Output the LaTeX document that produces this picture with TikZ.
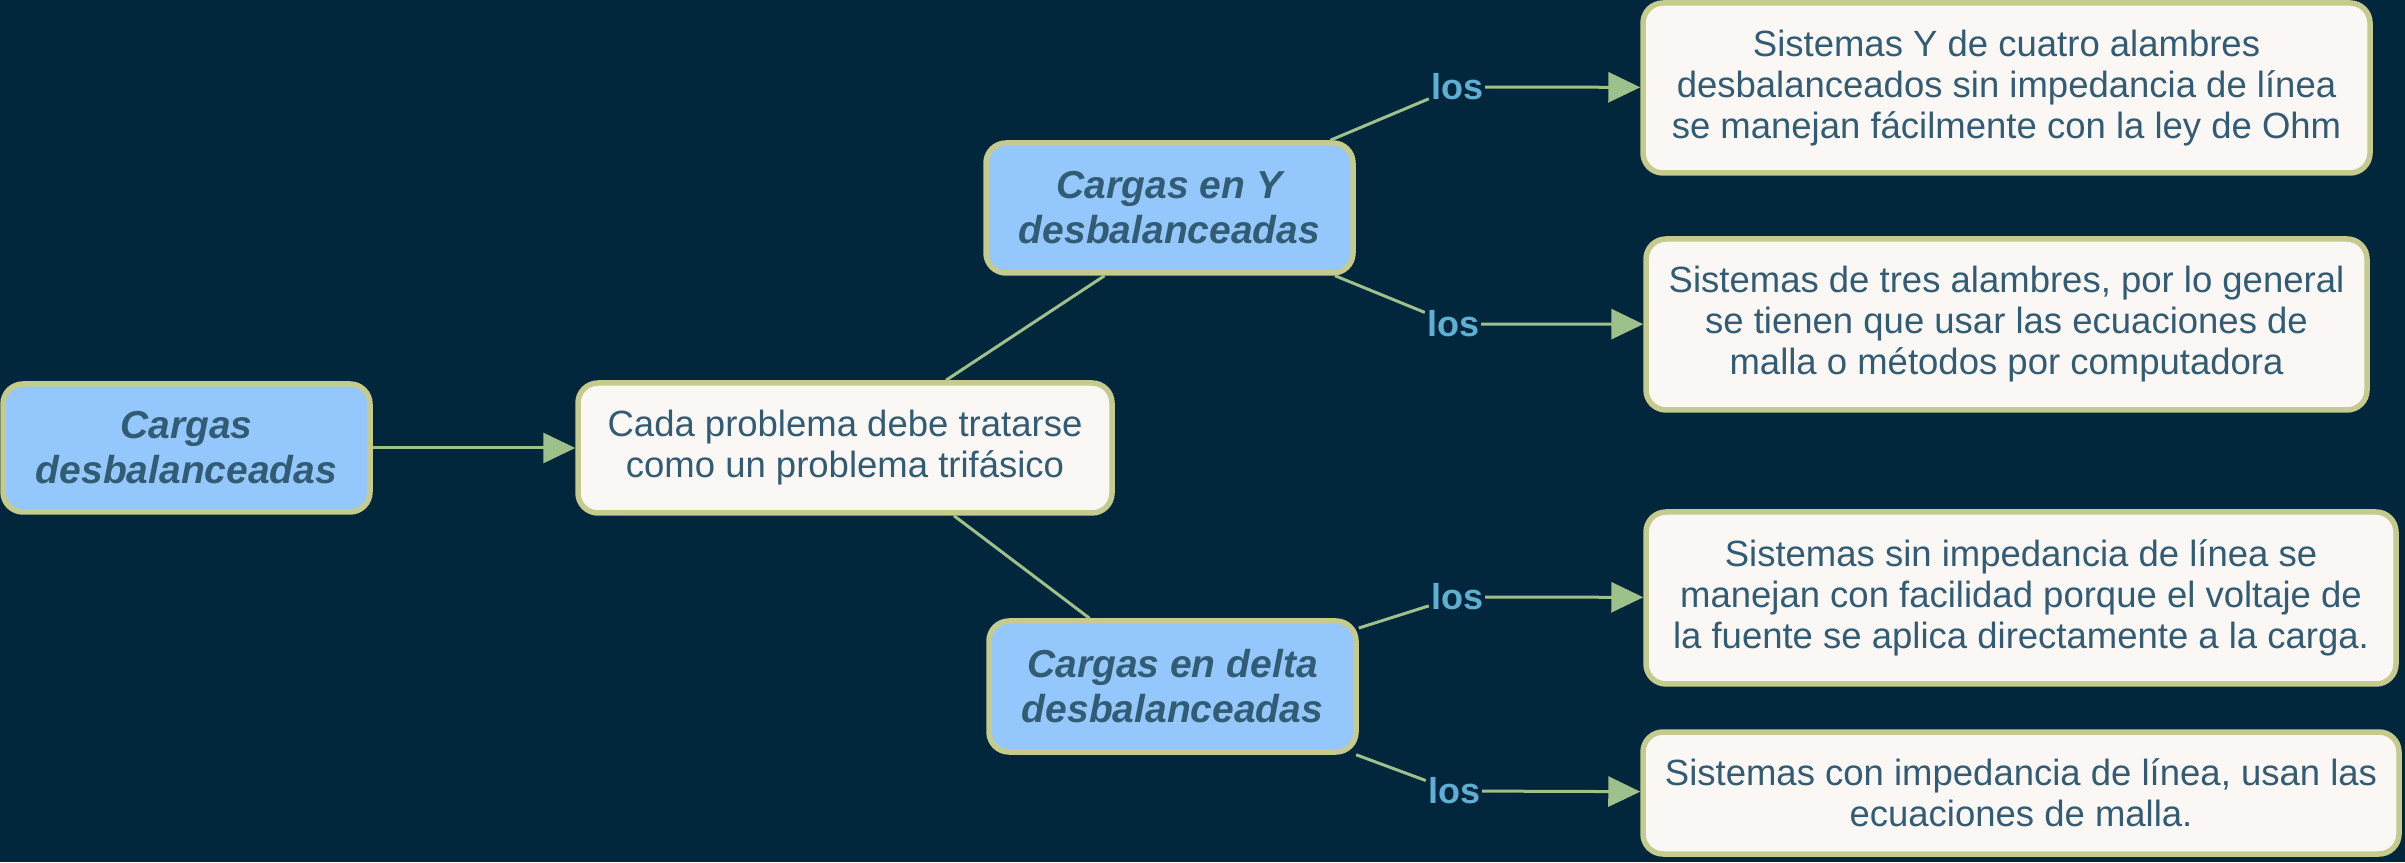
\documentclass[tikz,border=0pt]{standalone}
\usepackage{fontspec}
\setmainfont{Liberation Sans}
\usetikzlibrary{arrows.meta}
\definecolor{bgc}{RGB}{2,38,59}
\definecolor{bluef}{RGB}{148,200,252}
\definecolor{bordc}{RGB}{196,203,140}
\definecolor{creamf}{RGB}{250,247,244}
\definecolor{txtc}{RGB}{50,92,116}
\definecolor{linec}{RGB}{158,192,138}
\definecolor{losc}{RGB}{95,175,210}
\tikzset{
  concept/.style={draw=bordc, line width=5.5pt, rounded corners=20pt, fill=bluef,
    text=txtc, align=center, inner sep=0pt,
    font=\fontsize{39}{45}\selectfont\bfseries\itshape},
  leaf/.style={draw=bordc, line width=5.5pt, rounded corners=20pt, fill=creamf,
    text=txtc, align=center, inner sep=0pt,
    font=\fontsize{36.5}{41}\selectfont},
  loslab/.style={text=losc, inner sep=2pt, font=\fontsize{36}{40}\selectfont\bfseries},
  conn/.style={draw=linec, line width=3pt},
  arr/.style={conn, -{Triangle[length=32pt,width=30pt]}},
}
\begin{document}
\begin{tikzpicture}[x=1pt,y=1pt]
\fill[bgc] (0,0) rectangle (2405,862);
\useasboundingbox (0,0) rectangle (2405,862);

\node[concept, minimum width=367pt, minimum height=128pt] (A) at (186.5,414) {Cargas\\desbalanceadas};
\node[leaf, minimum width=534pt, minimum height=130pt] (B) at (845,414) {Cada problema debe tratarse\\como un problema trifásico};
\node[concept, minimum width=367pt, minimum height=130pt] (C) at (1169.5,654) {Cargas en Y\\desbalanceadas};
\node[concept, minimum width=367pt, minimum height=131pt] (D) at (1172.5,175.5) {Cargas en delta\\desbalanceadas};

\node[leaf, minimum width=727pt, minimum height=170pt] (E) at (2006.5,774) {Sistemas Y de cuatro alambres\\desbalanceados sin impedancia de línea\\se manejan fácilmente con la ley de Ohm};
\node[leaf, minimum width=721pt, minimum height=171pt] (F) at (2006.5,537.5) {Sistemas de tres alambres, por lo general\\se tienen que usar las ecuaciones de\\malla o métodos por computadora};
\node[leaf, minimum width=750pt, minimum height=172pt] (G) at (2021,264) {Sistemas sin impedancia de línea se\\manejan con facilidad porque el voltaje de\\la fuente se aplica directamente a la carga.};
\node[leaf, minimum width=756pt, minimum height=122pt] (H) at (2021,69) {Sistemas con impedancia de línea, usan las\\ecuaciones de malla.};

\node[loslab] (L1) at (1457,775) {los};
\node[loslab] (L2) at (1453,538) {los};
\node[loslab] (L3) at (1457,265) {los};
\node[loslab] (L4) at (1454,71) {los};

\draw[arr] (A) -- (B);
\draw[conn] ([xshift=101pt]B.north) -- ([xshift=-65pt]C.south);
\draw[conn] ([xshift=109pt]B.south) -- ([xshift=-83pt]D.north);
\draw[conn] (C) -- (L1);
\draw[conn] (C) -- (L2);
\draw[conn] (D) -- (L3);
\draw[conn] (D) -- (L4);
\draw[arr] (L1) -- (E);
\draw[arr] (L2) -- (F);
\draw[arr] (L3) -- (G);
\draw[arr] (L4) -- (H);
\end{tikzpicture}
\end{document}
